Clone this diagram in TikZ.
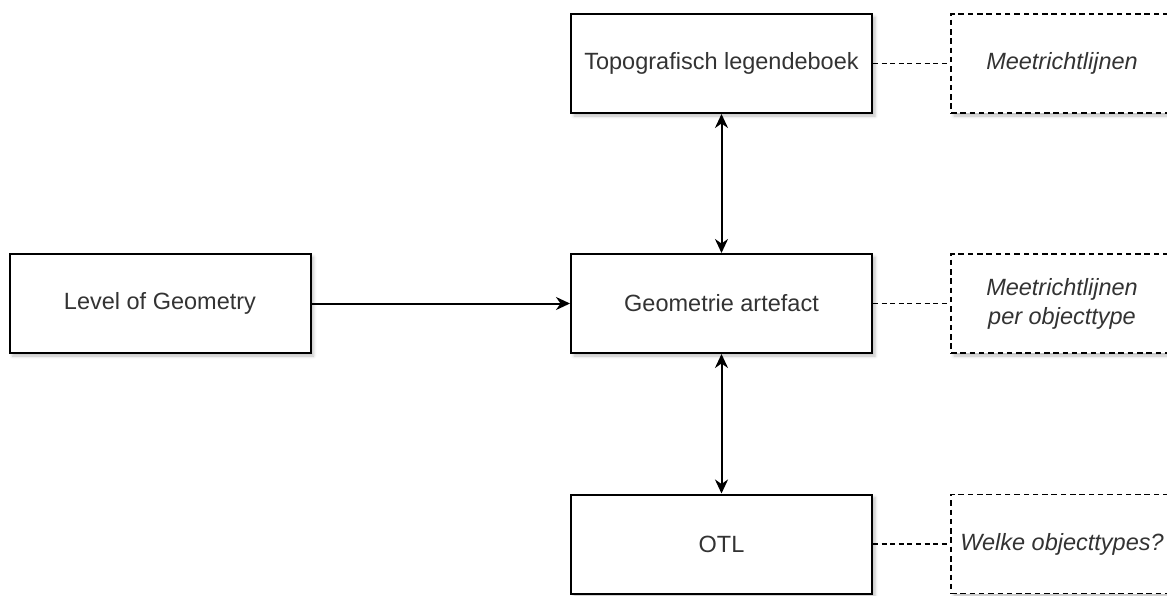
\documentclass[tikz,border=0pt]{standalone}
\usepackage{fontspec}
\setmainfont{Liberation Sans}
\usetikzlibrary{arrows.meta,shadows.blur}
\definecolor{txt}{HTML}{333333}
\begin{document}
\begin{tikzpicture}[x=1pt,y=-1pt,
  every node/.style={font=\fontsize{23.5}{29}\selectfont, text=txt},
  shadowed/.style={blur shadow={shadow xshift=3pt,shadow yshift=-3pt,shadow blur radius=3pt,shadow opacity=25}},
  block/.style={draw=black, line width=2pt, fill=white, minimum width=301pt, minimum height=99pt, inner sep=0pt, shadowed},
  note/.style={draw=black, line width=1.8pt, dash pattern=on 5.5pt off 3.8pt, fill=white,
    minimum width=222pt, minimum height=99pt, inner sep=0pt, align=center,
    font=\fontsize{23.5}{29}\selectfont\itshape, shadowed},
  tip/.tip={Stealth[length=14pt,width=13pt,inset=4.5pt]},
  link/.style={line width=2pt, -tip},
  twoway/.style={line width=2pt, tip-tip},
  tie/.style={line width=1.7pt, dash pattern=on 5pt off 3.6pt}
]
\useasboundingbox (0,0) rectangle (1167,595);
\clip (0,0) rectangle (1167,595);

% main blocks
\node[block] (log)  at (160,303.5)   {Level of Geometry};
\node[block] (geo)  at (721.5,303.5) {Geometrie artefact};
\node[block] (topo) at (721.5,63.5)  {Topografisch legendeboek};
\node[block] (otl)  at (721.5,544)   {OTL};

% annotations
\node[note] (n1) at (1062,63.5)  {Meetrichtlijnen};
\node[note] (n2) at (1062,303.5) {Meetrichtlijnen\\per objecttype};
\node[note] (n3) at (1062,544)   {Welke objecttypes?};

% relations
\draw[link] (log.east) -- (geo.west);
\draw[twoway] (topo.south) -- (geo.north);
\draw[twoway] (geo.south) -- (otl.north);

% annotation ties
\draw[tie] (topo.east) -- (n1.west);
\draw[tie] (geo.east) -- (n2.west);
\draw[tie] (otl.east) -- (n3.west);
\end{tikzpicture}
\end{document}
